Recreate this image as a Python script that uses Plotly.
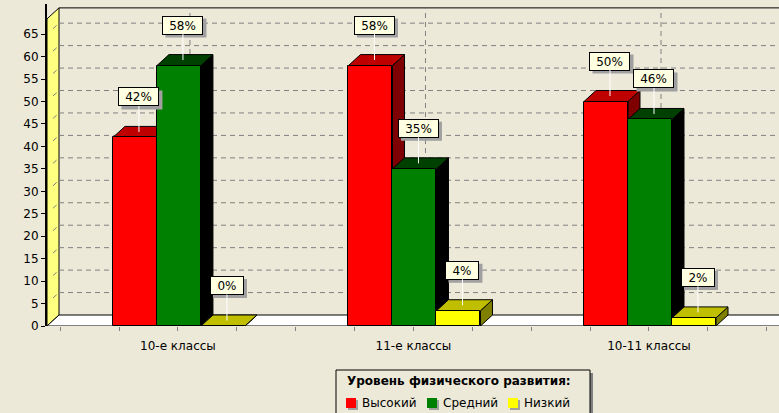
import plotly.graph_objects as go

# ---------------- data ----------------
categories = ["10-е классы", "11-е классы", "10-11 классы"]
series_names = ["Высокий", "Средний", "Низкий"]
vysokiy = [42, 58, 50]
sredniy = [58, 35, 46]
nizkiy = [0, 3.4, 1.8]
labels_vysokiy = [42, 58, 50]
labels_sredniy = [58, 35, 46]
labels_nizkiy = [0, 4, 2]
y_ticks = list(range(0, 70, 5))
legend_title = "Уровень физического развития:"

# ---------------- style ----------------
BG = "#ECE9D8"
FRONT = ["#FF0000", "#008000", "#FFFF00"]
TOP = ["#BF0000", "#004000", "#BFBF00"]
SIDE = ["#7F0000", "#000000", "#7F7F00"]
FONT = "DejaVu Sans"

W, H = 779, 413
ML, MR, MT, MB = 47, 0, 4, 87
XR = [-0.556, 2.552]
PX_Y = 4.49                      # pixels per unit on y
YR = [0, (H - MT - MB) / PX_Y]
PX_X = (W - ML - MR) / (XR[1] - XR[0])
DX = 12 / PX_X                   # 3D depth in data units
DY = 11 / PX_Y
WALL_TOP = 68.4
BAR_W = 44 / PX_X
GROUP_LEFT = -65 / PX_X
XL = XR[0]
XRT = XR[1] + 0.05

series_vals = [vysokiy, sredniy, nizkiy]
series_lbls = [labels_vysokiy, labels_sredniy, labels_nizkiy]

fig = go.Figure()
shapes = []
annotations = []

# left wall
shapes.append(dict(type="path", xref="x", yref="y", layer="below",
                   path=f"M {XL},0 L {XL+DX},{DY} L {XL+DX},{WALL_TOP+DY} L {XL},{WALL_TOP} Z",
                   fillcolor="#FFFF80", line=dict(color="black", width=1)))
# floor
shapes.append(dict(type="path", xref="x", yref="y", layer="below",
                   path=f"M {XL},0 L {XL+DX},{DY} L {XRT},{DY} L {XRT},0 Z",
                   fillcolor="white", line=dict(color="black", width=1)))
# back wall top edge
shapes.append(dict(type="line", xref="x", yref="y", layer="below",
                   x0=XL + DX, x1=XRT, y0=WALL_TOP + DY, y1=WALL_TOP + DY,
                   line=dict(color="black", width=1)))
# gridlines
GRID = dict(color="#808080", width=1, dash="5px,4px")
for v in y_ticks[1:]:
    shapes.append(dict(type="line", xref="x", yref="y", layer="below",
                       x0=XL + DX, x1=XRT, y0=v + DY, y1=v + DY, line=GRID))
    shapes.append(dict(type="line", xref="x", yref="y", layer="below",
                       x0=XL + DX * 0.5, x1=XL + DX, y0=v + DY * 0.5, y1=v + DY, line=GRID))
for c in range(len(categories)):
    shapes.append(dict(type="line", xref="x", yref="y", layer="below",
                       x0=c + DX, x1=c + DX, y0=DY, y1=WALL_TOP + DY, line=GRID))

# 3D faces (side + top) and front faces
for c in range(len(categories)):
    for s in range(3):
        v = series_vals[s][c]
        x0 = c + GROUP_LEFT + s * BAR_W
        x1 = x0 + BAR_W
        shapes.append(dict(type="path", xref="x", yref="y", layer="below",
                           path=f"M {x1},0 L {x1+DX},{DY} L {x1+DX},{v+DY} L {x1},{v} Z",
                           fillcolor=SIDE[s], line=dict(color="black", width=1)))
        shapes.append(dict(type="path", xref="x", yref="y", layer="below",
                           path=f"M {x0},{v} L {x1},{v} L {x1+DX},{v+DY} L {x0+DX},{v+DY} Z",
                           fillcolor=TOP[s], line=dict(color="black", width=1)))

for s in range(3):
    xs = [c + GROUP_LEFT + (s + 0.5) * BAR_W for c in range(len(categories))]
    fig.add_trace(go.Bar(x=xs, y=series_vals[s], width=BAR_W, name=series_names[s],
                         marker=dict(color=FRONT[s], line=dict(color="black", width=1)),
                         showlegend=False, hoverinfo="skip"))

# data labels (callout boxes with a drop shadow)
AY = -35
for c in range(len(categories)):
    for s in range(3):
        v = series_vals[s][c]
        xc = c + GROUP_LEFT + (s + 0.5) * BAR_W + 4 / PX_X
        yc = v + DY / 2
        txt = f"{series_lbls[s][c]}%"
        bw = 7 * len(txt) + 20
        bh = 19
        shapes.append(dict(type="rect", layer="above", xref="x", yref="y",
                           xsizemode="pixel", ysizemode="pixel", xanchor=xc, yanchor=yc,
                           x0=-bw / 2 + 3, x1=bw / 2 + 3,
                           y0=-AY - bh / 2 - 3, y1=-AY + bh / 2 - 3,
                           fillcolor="#A0A0A0", line=dict(width=0)))
        annotations.append(dict(x=xc, y=yc, xref="x", yref="y", text=txt, showarrow=True,
                                arrowhead=0, arrowwidth=1, arrowcolor="white", ax=0, ay=AY,
                                width=bw - 4, height=bh - 4, borderpad=1, borderwidth=1,
                                bgcolor="#FFFFE1", bordercolor="black",
                                font=dict(family=FONT, size=12, color="black")))

# manual legend (pixel -> paper)
def px(xp):
    return (xp - ML) / (W - ML - MR)

def py(yp):
    return (H - MB - yp) / (H - MT - MB)

shapes.append(dict(type="rect", xref="paper", yref="paper", x0=px(339), x1=px(593),
                   y0=py(373), y1=py(420), fillcolor="#808080", line=dict(width=0)))
shapes.append(dict(type="rect", xref="paper", yref="paper", x0=px(336), x1=px(590),
                   y0=py(370), y1=py(418), fillcolor=BG, line=dict(color="black", width=1)))
annotations.append(dict(xref="paper", yref="paper", x=px(345), y=py(381), xanchor="left",
                        yanchor="middle", showarrow=False, text=f"<b>{legend_title}</b>",
                        font=dict(family=FONT, size=12, color="black")))
leg_x = [346, 427, 508]
for s in range(3):
    shapes.append(dict(type="rect", xref="paper", yref="paper", x0=px(leg_x[s] + 2),
                       x1=px(leg_x[s] + 12), y0=py(398 + 2), y1=py(408 + 2),
                       fillcolor="#A0A0A0", line=dict(width=0)))
    shapes.append(dict(type="rect", xref="paper", yref="paper", x0=px(leg_x[s]),
                       x1=px(leg_x[s] + 10), y0=py(398), y1=py(408),
                       fillcolor=FRONT[s], line=dict(width=0)))
    annotations.append(dict(xref="paper", yref="paper", x=px(leg_x[s] + 14), y=py(403),
                            xanchor="left", yanchor="middle", showarrow=False,
                            text=series_names[s], font=dict(family=FONT, size=12, color="black")))

fig.update_layout(
    width=W, height=H, margin=dict(l=ML, r=MR, t=MT, b=MB),
    paper_bgcolor=BG, plot_bgcolor=BG, barmode="overlay", bargap=0,
    shapes=shapes, annotations=annotations, showlegend=False,
    font=dict(family=FONT, size=12, color="black"),
    xaxis=dict(range=XR, tickvals=list(range(len(categories))), ticktext=categories,
               showgrid=False, zeroline=False, showline=False, ticks="outside",
               ticklen=4, tickcolor="#808080", tickfont=dict(family=FONT, size=12),
               minor=dict(ticks="outside", dtick=0.25, tick0=-0.5, ticklen=4,
                          tickcolor="#808080", showgrid=False),
               ticklabelstandoff=5),
    yaxis=dict(range=YR, tickvals=y_ticks, showgrid=False, zeroline=False,
               showline=True, linecolor="black", linewidth=2, ticks="outside",
               ticklen=4, tickcolor="black", tickfont=dict(family=FONT, size=12)),
)

fig.write_html("out.html", config={"displayModeBar": False},
               post_script="document.body.style.margin='0';document.body.style.overflow='hidden';")
